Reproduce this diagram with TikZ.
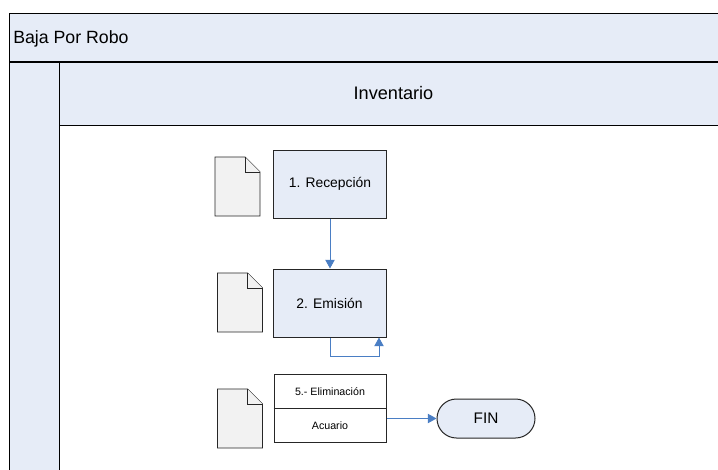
\documentclass[tikz,border=0pt]{standalone}
\usepackage{fontspec}
\setmainfont{Liberation Sans}
\usetikzlibrary{arrows.meta,positioning,shapes.misc}
\definecolor{lanefill}{HTML}{E6ECF7}
\definecolor{docfill}{HTML}{F2F2F2}
\definecolor{flowblue}{HTML}{4A7EC4}
\tikzset{
	band/.style={draw=black,fill=lanefill,minimum height=#1*0.75pt,inner sep=0pt},
	stepbox/.style={draw=black!85,fill=lanefill,line width=0.75pt,minimum width=113*0.75pt,minimum height=68*0.75pt,inner sep=0pt,font=\fontsize{10.4}{12}\selectfont},
	rolebox/.style={draw=black!85,fill=white,line width=0.75pt,minimum width=112*0.75pt,minimum height=33.5*0.75pt,inner sep=0pt,font=\fontsize{8}{9}\selectfont},
	endbox/.style={draw=black!85,fill=lanefill,line width=0.75pt,rounded rectangle,minimum width=98*0.75pt,minimum height=39*0.75pt,inner sep=0pt,font=\fontsize{11.5}{13}\selectfont},
	docpage/.style={draw=black!85,fill=docfill,line width=0.7pt},
	flow/.style={draw=flowblue,line width=0.7pt,-{Triangle[length=6.5pt,width=7pt]}},
}
\begin{document}
\begin{tikzpicture}[
		x=0.75pt,
		y=-0.75pt,
	]
		\useasboundingbox (0,0) rectangle (718,469);
		
		% lanes
		\begin{scope}
			\clip (0,0) rectangle (718,469);
			\draw[fill=lanefill,draw=black] (9,62) rectangle (59,480);
			\draw[draw=black,fill=white] (59,125) rectangle (730,480);
			\node[band=63,minimum width=671*0.75pt,anchor=north west] (lanehead) at (59,62) {};
			\node[band=49,minimum width=721*0.75pt,anchor=north west,line width=0.6pt] (titleband) at (9,13) {};
			\draw[line width=1.3pt] (9,62) -- (718,62);
		\end{scope}
		\node[anchor=west,inner sep=0pt,font=\fontsize{13.3}{15}\selectfont] (title) at (13,38.5) {Baja Por Robo};
		\node[font=\fontsize{13.6}{15}\selectfont] (lanetitle) at (393.5,93) {Inventario};
		
		% documents
		\foreach \x/\y in {215/157, 217.5/273, 217.5/389}{
			\draw[docpage] (\x,\y) -- (\x+30,\y) -- (\x+45,\y+15) -- (\x+45,\y+59) -- (\x,\y+59) -- cycle;
			\draw[docpage] (\x+30,\y) -- (\x+30,\y+15) -- (\x+45,\y+15);
		}
		
		% steps
		\node[stepbox] (recepcion) at (330,184) {1. Recepción};
		\node[stepbox] (emision) at (329.5,303) {2. Emisión};
		\node[rolebox,anchor=south] (eliminacion) at (330,408.5) {5.- Eliminación};
		\node[rolebox,anchor=north] (acuario) at (330,408) {Acuario};
		\draw[line width=1.4pt,black!85] (eliminacion.south west) -- (eliminacion.south east);
		\node[endbox] (fin) at (486,418.5) {FIN};
		
		% connectors
		\coordinate (loopa) at (330,356);
		\coordinate (loopb) at (379,356);
		\draw[flow] (recepcion.south) -- (emision.north -| recepcion.south);
		\draw[flow] (emision.south -| loopa) -- (loopa) -- (loopb) -- (emision.south -| loopb);
		\draw[flow] (acuario.east |- fin.west) -- (fin.west);
	\end{tikzpicture}
\end{document}
